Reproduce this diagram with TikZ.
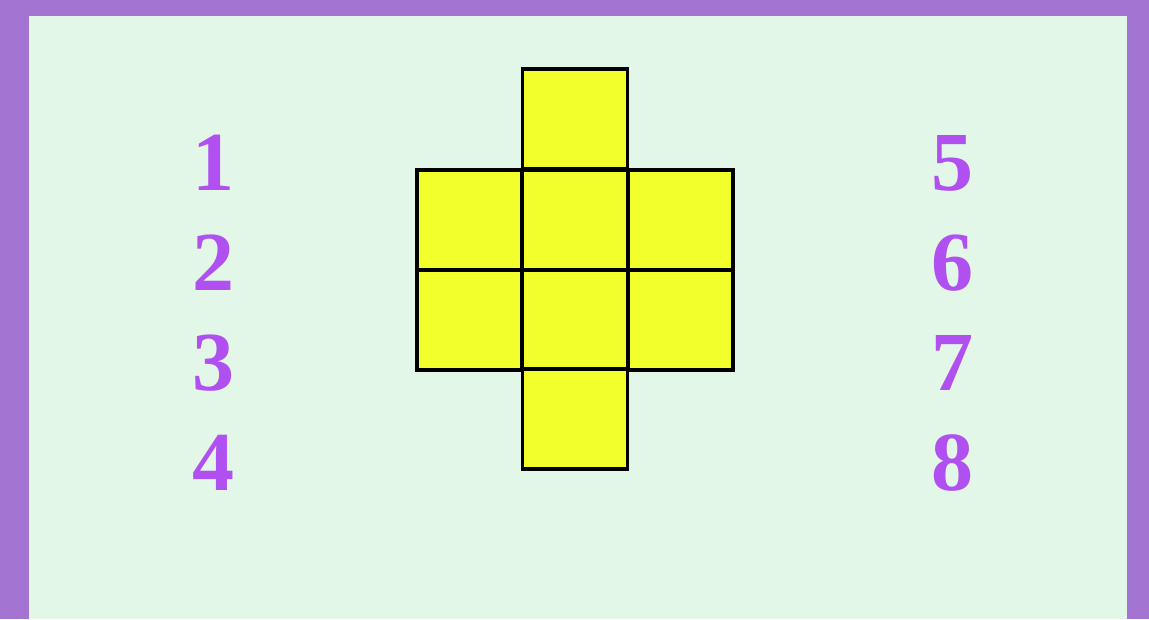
\documentclass[tikz,border=0pt]{standalone}
\usepackage{fontspec}
\setmainfont{Liberation Serif}
\usetikzlibrary{positioning}
\definecolor{frameViolet}{HTML}{A374D1}
\definecolor{paperMint}{HTML}{E3F7E8}
\definecolor{cellYellow}{HTML}{F2FF2A}
\definecolor{digitViolet}{HTML}{B150F0}
\tikzset{
  cell/.style={
    rectangle,
    draw=black,
    fill=cellYellow,
    line width=3.6pt,
    minimum width=105pt,
    minimum height=100pt,
    inner sep=0pt
  },
  digit/.style={
    text=digitViolet,
    inner sep=0pt,
    font=\fontsize{84}{84}\selectfont\bfseries
  }
}
\begin{document}
\begin{tikzpicture}[x=1pt,y=-1pt]
  \fill[frameViolet] (0,0) rectangle (1149,619);
  \fill[paperMint] (29,16) rectangle (1127,619);
  \useasboundingbox (0,0) rectangle (1149,619);
  % cross of cells
  \node[cell] (top) at (575,119) {};
  \node[cell] (midL) at (469.5,220) {};
  \node[cell] (midC) at (575,220) {};
  \node[cell] (midR) at (680.5,220) {};
  \node[cell] (lowL) at (469.5,320) {};
  \node[cell] (lowC) at (575,320) {};
  \node[cell] (lowR) at (680.5,320) {};
  \node[cell] (bottom) at (575,419) {};
  % numbers
  \foreach \n/\y in {1/163,2/263,3/363,4/463} {
    \node[digit] (left\n) at (213,\y) {\n};
  }
  \foreach \n/\y in {5/163,6/263,7/363,8/463} {
    \node[digit] (right\n) at (952,\y) {\n};
  }
\end{tikzpicture}
\end{document}
